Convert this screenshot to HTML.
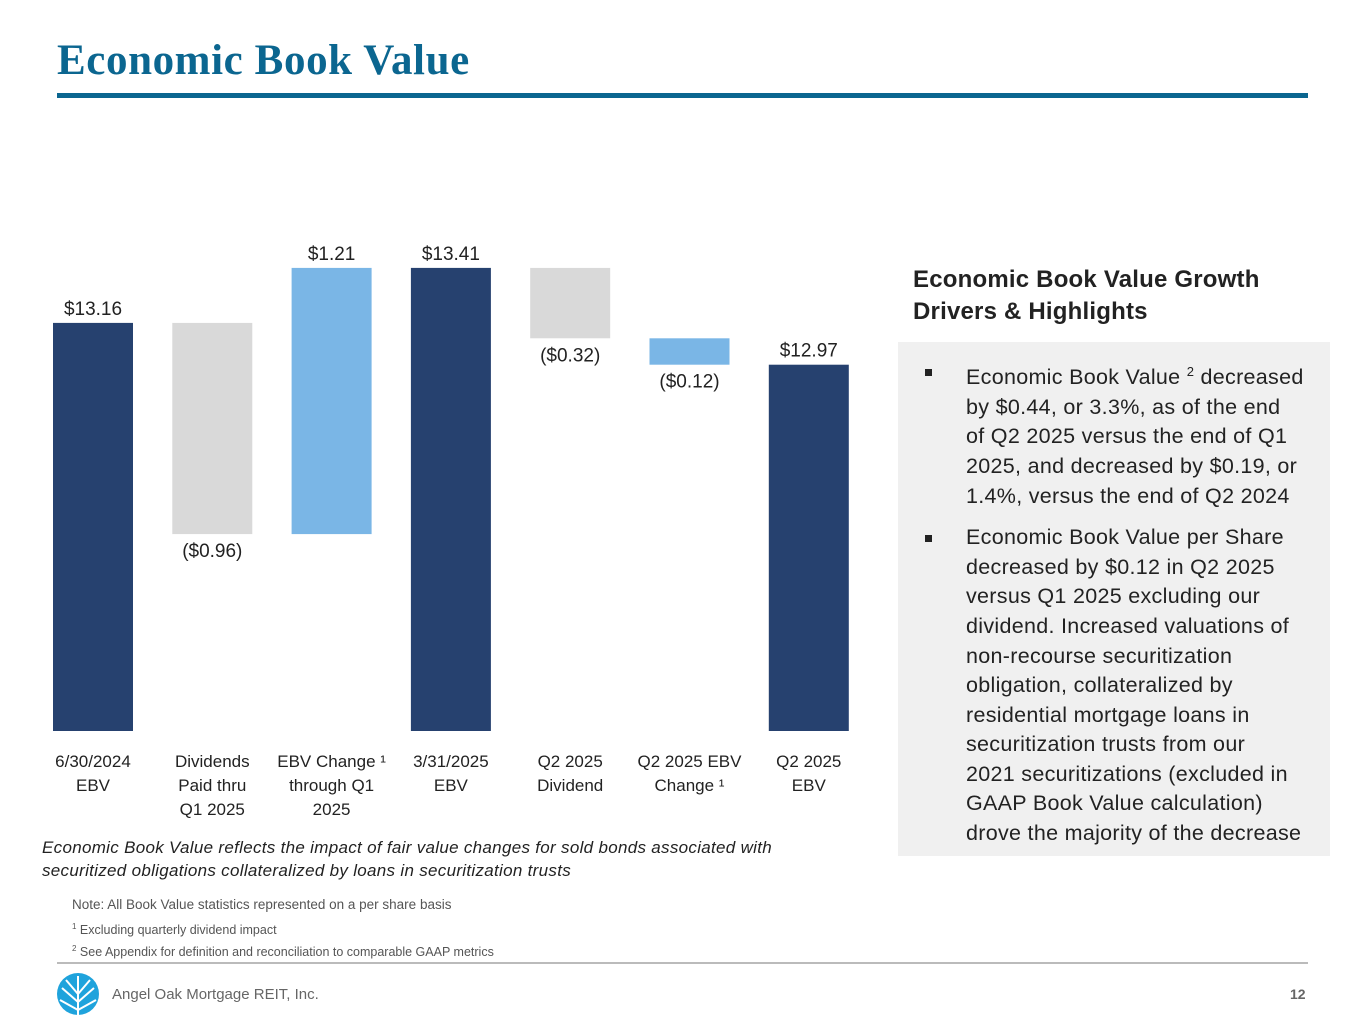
<!DOCTYPE html>
<html><head><meta charset="utf-8"><style>
body{margin:0;width:1365px;height:1024px;background:#fff;position:relative;overflow:hidden;font-family:"Liberation Sans",sans-serif;}
.abs{position:absolute;}
#title{left:57px;top:36px;font-family:"Liberation Serif",serif;font-weight:bold;font-size:43px;letter-spacing:0.6px;color:#0b6690;margin:0;}
#rule{left:57px;top:93px;width:1251px;height:5px;background:#0b6690;}
#chart{left:0;top:230px;}
.lbl{font-size:19px;fill:#222;}
.cat{font-size:17px;fill:#222;}
#hl-title{left:913px;top:264px;font-size:24px;font-weight:bold;color:#222;line-height:32px;letter-spacing:0.2px;}
#box{left:898px;top:342px;width:432px;height:514px;background:#f0f0f0;}
#box ul{margin:0;padding:15px 0 0 0;list-style:none;}
#box li{position:relative;padding-left:68px;font-size:21.5px;line-height:29.6px;color:#222;margin-bottom:12px;white-space:nowrap;letter-spacing:0.3px;}
#box li:before{content:"";position:absolute;left:27px;top:12px;width:7px;height:7px;background:#222;}
#caption{left:42px;top:836px;font-size:17px;font-style:italic;color:#222;line-height:23px;letter-spacing:0.3px;}
.note{left:72px;font-size:13.5px;color:#555;}
#frule{left:57px;top:962px;width:1251px;height:2px;background:#bbb;}
#company{left:112px;top:986px;font-size:15px;color:#666;}
#pg{left:1290px;top:986px;font-size:14px;color:#666;font-weight:bold;}
</style></head><body>
<h1 id="title" class="abs">Economic Book Value</h1>
<div id="rule" class="abs"></div>
<svg id="chart" class="abs" width="880" height="600"></svg>
<div id="hl-title" class="abs">Economic Book Value Growth<br>Drivers &amp; Highlights</div>
<div id="box" class="abs"><ul>
<li>Economic Book Value <sup style="font-size:13px">2</sup> decreased<br>by $0.44, or 3.3%, as of the end<br>of Q2 2025 versus the end of Q1<br>2025, and decreased by $0.19, or<br>1.4%, versus the end of Q2 2024</li>
<li>Economic Book Value per Share<br>decreased by $0.12 in Q2 2025<br>versus Q1 2025 excluding our<br>dividend. Increased valuations of<br>non-recourse securitization<br>obligation, collateralized by<br>residential mortgage loans in<br>securitization trusts from our<br>2021 securitizations (excluded in<br>GAAP Book Value calculation)<br>drove the majority of the decrease</li>
</ul></div>
<div id="caption" class="abs">Economic Book Value reflects the impact of fair value changes for sold bonds associated with<br>securitized obligations collateralized by loans in securitization trusts</div>
<div class="abs note" style="top:897px">Note: All Book Value statistics represented on a per share basis</div>
<div class="abs note" style="top:922px;font-size:12.5px"><sup style="font-size:8px">1</sup> Excluding quarterly dividend impact</div>
<div class="abs note" style="top:944px;font-size:12.5px"><sup style="font-size:8px">2</sup> See Appendix for definition and reconciliation to comparable GAAP metrics</div>
<div id="frule" class="abs"></div>
<svg class="abs" style="left:56px;top:972px" width="44" height="44" viewBox="0 0 44 44">
<circle cx="22" cy="22" r="21" fill="#1fa3dc"/>
<g stroke="#fff" stroke-width="2" fill="none"><path d="M22 44V4M22 30L6 16M22 30L38 16M22 22L10 8M22 22L34 8M22 38L4 28M22 38L40 28"/></g>
</svg>
<div id="company" class="abs">Angel Oak Mortgage REIT, Inc.</div>
<div id="pg" class="abs">12</div>
<script>
const categories=[["6/30/2024","EBV"],["Dividends","Paid thru","Q1 2025"],["EBV Change \u00b9","through Q1","2025"],["3/31/2025","EBV"],["Q2 2025","Dividend"],["Q2 2025 EBV","Change \u00b9"],["Q2 2025","EBV"]];
const values=[13.16,-0.96,1.21,13.41,-0.32,-0.12,12.97];
const kinds=["total","dividend","change","total","dividend","change","total"];
const valueLabels=["$13.16","($0.96)","$1.21","$13.41","($0.32)","($0.12)","$12.97"];
const svg=document.getElementById('chart');
const NS='http://www.w3.org/2000/svg';
const colors={total:'#26416f',dividend:'#d9d9d9',change:'#7ab6e6'};
const y0=501, pxPer=220, base=11.305;
const yv=v=>y0-(v-base)*pxPer;
const xc=i=>93+i*119.3;
const bw=80;
let run=0;
values.forEach((v,i)=>{
  let top,bot;
  if(kinds[i]==='total'){run=v;top=yv(v);bot=y0;}
  else{const a=run,b=run+v;run=b;top=yv(Math.max(a,b));bot=yv(Math.min(a,b));}
  const r=document.createElementNS(NS,'rect');
  r.setAttribute('x',xc(i)-bw/2);r.setAttribute('y',top);r.setAttribute('width',bw);r.setAttribute('height',bot-top);r.setAttribute('fill',colors[kinds[i]]);
  
  
  svg.appendChild(r);
  const t=document.createElementNS(NS,'text');
  t.setAttribute('x',xc(i));t.setAttribute('text-anchor','middle');t.setAttribute('class','lbl');
  t.setAttribute('y',v<0?bot+23:top-8);
  t.textContent=valueLabels[i];
  
  
  svg.appendChild(t);
  categories[i].forEach((line,j)=>{
    const c=document.createElementNS(NS,'text');
    c.setAttribute('x',xc(i));c.setAttribute('y',y0+36+j*24);c.setAttribute('text-anchor','middle');c.setAttribute('class','cat');
    c.textContent=line;
    
    
    svg.appendChild(c);
  });
});
</script>
</body></html>
